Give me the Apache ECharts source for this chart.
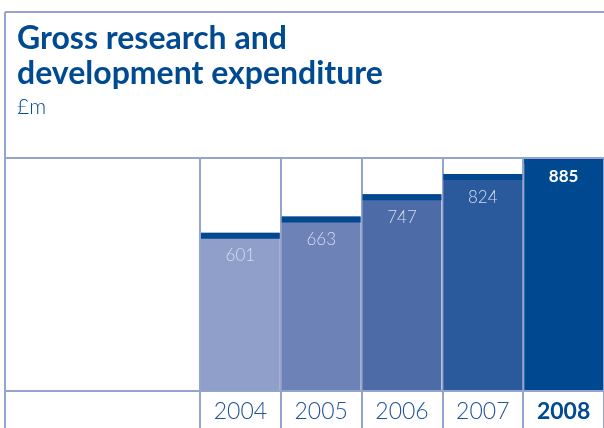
<!DOCTYPE html>
<html>
<head>
<meta charset="utf-8">
<script src="https://cdn.jsdelivr.net/npm/echarts@6/dist/echarts.min.js"></script>
<style>
  html, body { margin: 0; padding: 0; background: #ffffff; }
  #chart { width: 604px; height: 428px; }
</style>
</head>
<body>
<div id="chart"></div>
<script>
// Gross R&D expenditure, £m
const years = ['2004', '2005', '2006', '2007', '2008'];
const spend = [601, 663, 747, 824, 885];

// Fill for each year, lightest to darkest; the top cap is always the dark brand blue
const barColors = ['#8f9fca', '#6d82b7', '#4d6ba7', '#2a5a9b', '#004990'];
const capColor = '#004990';
const ruleColor = '#95a3cf';
const brandBlue = '#004a91';

// Table layout
const frameLeft = 5, frameTop = 12, headRule = 158, footRule = 391, plotLeft = 200;
const W = 604, H = 428;

const chart = echarts.init(document.getElementById('chart'), null, { renderer: 'canvas' });

const lastIdx = years.length - 1;

chart.setOption({
  animation: false,
  backgroundColor: '#ffffff',
  title: [
    {
      text: 'Gross research and\ndevelopment expenditure',
      left: 12, top: 16,
      textStyle: { fontFamily: 'Lato', fontWeight: 'bold', fontSize: 32, lineHeight: 35, color: brandBlue }
    },
    {
      text: '£m',
      left: 12, top: 92,
      textStyle: { fontFamily: 'Lato', fontWeight: 300, fontSize: 21, color: brandBlue }
    }
  ],
  grid: { left: plotLeft, top: headRule, right: W - 610, bottom: H - footRule },
  xAxis: {
    type: 'category',
    data: years,
    boundaryGap: true,
    axisLine: { show: false },
    axisTick: { show: true, inside: false, length: H - footRule, interval: 0, lineStyle: { color: ruleColor, width: 2 } },
    splitLine: { show: true, interval: 0, lineStyle: { color: ruleColor, width: 2 } },
    axisLabel: {
      interval: 0,
      margin: 21,
      verticalAlign: 'middle',
      formatter: function (v, i) { return i === lastIdx ? '{b|' + v + '}' : '{n|' + v + '}'; },
      rich: {
        n: { fontFamily: 'Lato', fontWeight: 300, fontSize: 23, color: '#22529c' },
        b: { fontFamily: 'Lato', fontWeight: 'bold', fontSize: 23, color: brandBlue }
      }
    }
  },
  yAxis: {
    type: 'value',
    min: 0,
    max: Math.max.apply(null, spend),
    show: false,
    splitLine: { show: false }
  },
  series: [{
    type: 'custom',
    z: 1,
    data: spend.map(function (v, i) { return [i, v]; }),
    renderItem: function (params, api) {
      const i = api.value(0);
      const v = api.value(1);
      const top = api.coord([i, v]);
      const base = api.coord([i, 0]);
      const w = api.size([1, 0])[0] - 2;
      const x = top[0] - w / 2;
      const bold = i === lastIdx;
      return {
        type: 'group',
        children: [
          { type: 'rect', shape: { x: x, y: top[1], width: w, height: base[1] - top[1] }, style: { fill: barColors[i] } },
          { type: 'rect', shape: { x: x, y: top[1], width: w, height: 6 }, style: { fill: capColor } },
          {
            type: 'text',
            x: top[0],
            y: top[1] + (bold ? 19 : 23),
            style: {
              text: String(v),
              align: 'center',
              verticalAlign: 'middle',
              fill: bold ? '#ffffff' : '#d6ddef',
              font: (bold ? 'bold ' : '300 ') + '17px Lato'
            }
          }
        ]
      };
    }
  }],
  graphic: [
    { type: 'line', z: 100, shape: { x1: frameLeft, y1: frameTop, x2: W, y2: frameTop }, style: { stroke: ruleColor, lineWidth: 2 } },
    { type: 'line', z: 100, shape: { x1: frameLeft, y1: frameTop, x2: frameLeft, y2: H }, style: { stroke: ruleColor, lineWidth: 2 } },
    { type: 'line', z: 100, shape: { x1: frameLeft, y1: headRule, x2: W, y2: headRule }, style: { stroke: ruleColor, lineWidth: 2 } },
    { type: 'line', z: 100, shape: { x1: frameLeft, y1: footRule, x2: W, y2: footRule }, style: { stroke: ruleColor, lineWidth: 2 } }
  ]
});
</script>
</body>
</html>
